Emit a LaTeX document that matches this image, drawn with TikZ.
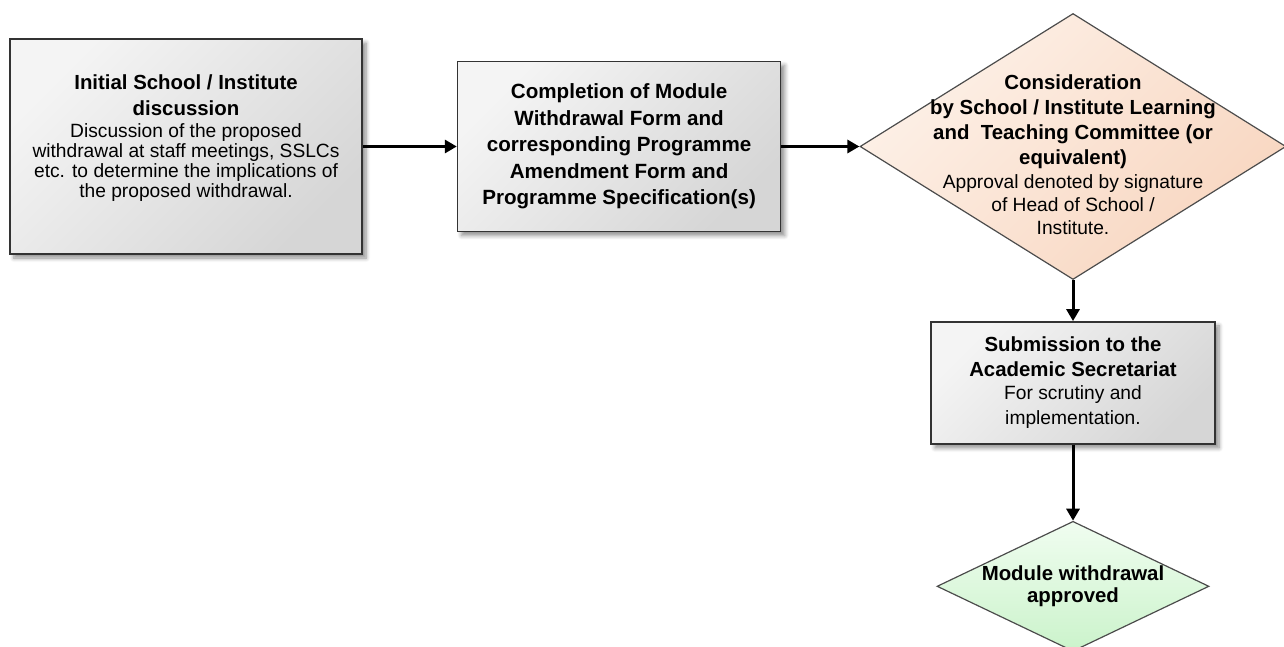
\documentclass[tikz,border=0pt]{standalone}
\usepackage{fontspec}
\setmainfont{Liberation Sans}
\usetikzlibrary{positioning,shapes.geometric,shadows.blur,arrows.meta}

\definecolor{boxlight}{HTML}{F4F4F4}
\definecolor{boxdark}{HTML}{D6D6D6}
\definecolor{peachlight}{HTML}{FDF1E8}
\definecolor{peachdark}{HTML}{F8D6C0}
\definecolor{greenlight}{HTML}{F0FDF0}
\definecolor{greendark}{HTML}{CBF3CB}

\newcommand{\ttl}[1]{{\fontsize{10.2}{13}\selectfont\bfseries #1}}

\begin{document}
\begin{tikzpicture}[
    x=0.5pt, y=-0.5pt,
    txt/.style={align=center, inner sep=0pt, font=\fontsize{9.6}{10}\selectfont},
    block/.style={rectangle, draw=black!80, line width=0.8pt, align=center, font=\fontsize{9.6}{10}\selectfont,
        top color=boxlight, bottom color=boxdark, shading angle=45,
        blur shadow={shadow xshift=2pt, shadow yshift=-2pt, shadow blur steps=6, shadow opacity=45}},
    decision/.style={diamond, draw=black!70, line width=0.6pt, inner sep=0pt,
        top color=peachlight, bottom color=peachdark, shading angle=45},
    approved/.style={decision, top color=greenlight, bottom color=greendark},
    arrow/.style={-{Triangle[length=6pt,width=6.5pt]}, line width=1.5pt}
]
% Canvas
\useasboundingbox (0,0) rectangle (1284,647);

% First discussion
\node[block, minimum width=176pt, minimum height=107.5pt] (init) at (186,146.5) {%
    \ttl{Initial School / Institute}\\[3pt]
    \ttl{discussion}\\[1pt]
    Discussion of the proposed\\
    withdrawal at staff meetings, SSLCs\\
    etc. to determine the implications of\\
    the proposed withdrawal.\\};

% Forms
\node[block, minimum width=161.5pt, minimum height=85pt, right=47pt of init,
      font=\fontsize{10.3}{13.3}\selectfont\bfseries] (compl) {%
    Completion of Module\\
    Withdrawal Form and\\
    corresponding Programme\\
    Amendment Form and\\
    Programme Specification(s)};

% Committee
\node[decision, minimum width=213pt, minimum height=133pt, right=39pt of compl] (ltc) {};
\node[txt] (ltctext) at ([yshift=-4pt]ltc.center) {%
    \ttl{Consideration}\\[2.5pt]
    \ttl{by School / Institute Learning}\\[2.5pt]
    \ttl{and\ \ Teaching Committee (or}\\[2.5pt]
    \ttl{equivalent)}\\[2pt]
    Approval denoted by signature\\[1.5pt]
    of Head of School /\\[1.5pt]
    Institute.};

% Secretariat
\node[block, minimum width=142pt, minimum height=61pt, below=20.5pt of ltc] (submit) {%
    \ttl{Submission to the}\\[2.5pt]
    \ttl{Academic Secretariat}\\[1.5pt]
    For scrutiny and\\[2.5pt]
    implementation.};

% End
\node[approved, minimum width=136pt, minimum height=65pt, below=38pt of submit] (done) {};
\node[txt] (donetext) at (done) {%
    \ttl{Module withdrawal}\\[1pt]
    \ttl{approved}};

% Arrows
\draw[arrow] (init) -- (compl);
\draw[arrow] (compl) -- (ltc);
\draw[arrow] (ltc) -- (submit);
\draw[arrow] (submit) -- (done);

\end{tikzpicture}
\end{document}
